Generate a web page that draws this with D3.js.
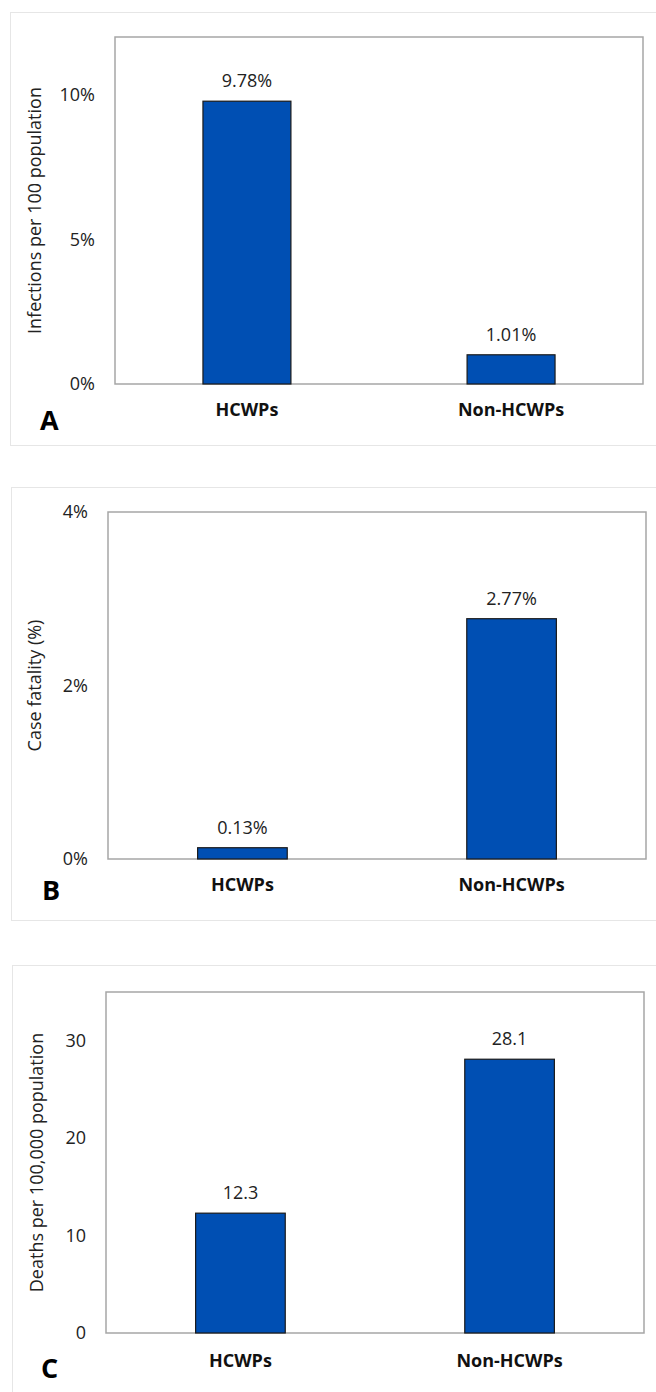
<!DOCTYPE html>
<html>
<head>
<meta charset="utf-8">
<script src="https://cdn.jsdelivr.net/npm/d3@7"></script>
<style>
  html, body { margin: 0; padding: 0; background: #fff; }
  svg { display: block; font-family: "Open Sans", sans-serif; }
</style>
</head>
<body>
<div id="chart"></div>
<script>
// ---- data ----
var categories = ['HCWPs', 'Non-HCWPs'];
var infections = [9.78, 1.01];      // per 100 population (%)
var caseFatality = [0.13, 2.77];    // %
var deaths = [12.3, 28.1];          // per 100,000 population
var ticksA = [0, 5, 10];
var ticksB = [0, 2, 4];
var ticksC = [0, 10, 20, 30];

var W = 656, H = 1392;
var svg = d3.select('#chart').append('svg')
  .attr('width', W).attr('height', H);

function pct(v) { return v + '%'; }

// one panel = outer frame + plot box + bars
function drawPanel(p) {
  var g = svg.append('g');

  // light outer frame
  g.append('rect')
    .attr('x', p.frame[0] + 0.5).attr('y', p.frame[1] + 0.5)
    .attr('width', p.frame[2] - p.frame[0]).attr('height', p.frame[3] - p.frame[1])
    .attr('fill', 'none').attr('stroke', '#e6e6e6').attr('stroke-width', 1);

  var x = d3.scaleBand().domain(categories)
    .range([p.left, p.right]).paddingInner(0.667).paddingOuter(0.333);
  var y = d3.scaleLinear().domain([0, p.max]).range([p.bottom, p.top]);

  // plot box
  g.append('rect')
    .attr('x', p.left).attr('y', p.top)
    .attr('width', p.right - p.left).attr('height', p.bottom - p.top)
    .attr('fill', 'none').attr('stroke', '#a6a6a6').attr('stroke-width', 1.5);

  // y tick labels via axis
  var yAxis = d3.axisLeft(y).tickValues(p.ticks).tickFormat(p.tickFmt).tickSize(0).tickPadding(0);
  var ya = g.append('g').attr('transform', 'translate(' + (p.left - 20) + ',0)').call(yAxis);
  ya.select('.domain').remove();
  ya.selectAll('text')
    .attr('font-family', '"Open Sans", sans-serif')
    .attr('font-size', '18px').attr('fill', '#222');

  // bars
  var data = categories.map(function(c, i) { return { cat: c, v: p.values[i] }; });
  g.selectAll('.bar').data(data).enter().append('rect')
    .attr('class', 'bar')
    .attr('x', function(d) { return x(d.cat); })
    .attr('y', function(d) { return y(d.v); })
    .attr('width', x.bandwidth())
    .attr('height', function(d) { return p.bottom - y(d.v); })
    .attr('fill', '#004fb3').attr('stroke', '#1a1a1a').attr('stroke-width', 1.2);

  // value labels
  g.selectAll('.val').data(data).enter().append('text')
    .attr('x', function(d) { return x(d.cat) + x.bandwidth() / 2; })
    .attr('y', function(d) { return y(d.v) - 14; })
    .attr('text-anchor', 'middle')
    .attr('font-size', '18px').attr('fill', '#222')
    .text(function(d) { return p.valFmt(d.v); });

  // category labels
  g.selectAll('.cat').data(data).enter().append('text')
    .attr('x', function(d) { return x(d.cat) + x.bandwidth() / 2; })
    .attr('y', p.catY)
    .attr('text-anchor', 'middle')
    .attr('font-size', '18px').attr('font-weight', 700).attr('fill', '#111')
    .text(function(d) { return d.cat; });

  // y axis title
  g.append('text')
    .attr('transform', 'translate(' + p.titleX + ',' + ((p.top + p.bottom) / 2) + ') rotate(-90)')
    .attr('text-anchor', 'middle')
    .attr('font-size', '18px').attr('fill', '#222')
    .text(p.title);

  // panel letter
  g.append('text')
    .attr('x', p.letterX).attr('y', p.letterY)
    .attr('font-size', '27px').attr('font-weight', 700).attr('fill', '#000')
    .text(p.letter);
}

drawPanel({
  frame: [10, 12, 660, 445],
  left: 115, right: 643, top: 37, bottom: 384,
  max: 12, ticks: ticksA, values: infections,
  tickFmt: pct, valFmt: function(v) { return v.toFixed(2) + '%'; },
  title: 'Infections per 100 population', titleX: 41,
  catY: 416, letter: 'A', letterX: 40, letterY: 430
});

drawPanel({
  frame: [11, 487, 660, 920],
  left: 108, right: 646, top: 512, bottom: 859,
  max: 4, ticks: ticksB, values: caseFatality,
  tickFmt: pct, valFmt: function(v) { return v.toFixed(2) + '%'; },
  title: 'Case fatality (%)', titleX: 41,
  catY: 891, letter: 'B', letterX: 42, letterY: 900
});

drawPanel({
  frame: [12, 965, 660, 1400],
  left: 106, right: 644, top: 992, bottom: 1333,
  max: 35, ticks: ticksC, values: deaths,
  tickFmt: function(v) { return v; }, valFmt: function(v) { return v.toFixed(1); },
  title: 'Deaths per 100,000 population', titleX: 43,
  catY: 1367, letter: 'C', letterX: 41, letterY: 1378
});
</script>
</body>
</html>
